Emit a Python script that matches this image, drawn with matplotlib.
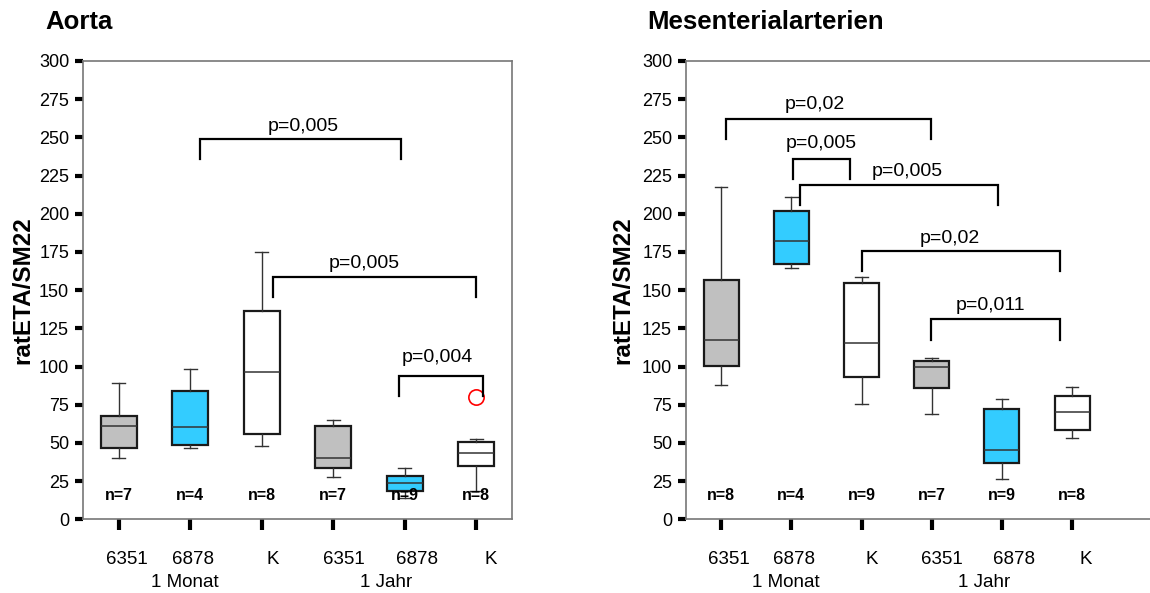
import matplotlib
matplotlib.use("Agg")
import matplotlib.pyplot as plt

plt.rcParams['font.family'] = ['Liberation Sans', 'DejaVu Sans']

# categories
groups = ['6351', '6878', 'K', '6351', '6878', 'K']
periods = ['1 Monat', '1 Jahr']
box_colors = ['#C0C0C0', '#33CCFF', 'white', '#C0C0C0', '#33CCFF', 'white']

# Aorta
aorta_whislo = [40.0, 46.5, 48.0, 27.7, 13.7, 18.5]
aorta_q1 = [46.5, 48.6, 55.8, 33.8, 18.5, 35.1]
aorta_med = [61.1, 60.2, 96.6, 40.1, 23.8, 43.6]
aorta_q3 = [67.4, 84.2, 136.1, 61.1, 28.5, 50.6]
aorta_whishi = [89.3, 98.6, 174.7, 65.2, 33.8, 52.8]
aorta_fliers = [[], [], [], [], [], [80.2]]
aorta_n = [7, 4, 8, 7, 9, 8]
# (x1, x2, top, bottom, label, text x, text y)
aorta_pvals = [
    (2.13, 4.95, 248.7, 235.6, 'p=0,005', 3.58, 257.3),
    (3.16, 5.99, 158.8, 145.7, 'p=0,005', 4.43, 167.5),
    (4.92, 6.10, 93.8, 80.7, 'p=0,004', 5.45, 105.9),
]

# Mesenterialarterien
mes_whislo = [87.9, 164.3, 75.5, 69.1, 26.4, 53.4]
mes_q1 = [100.3, 167.3, 93.1, 85.9, 36.8, 58.6]
mes_med = [117.1, 181.9, 115.2, 99.5, 45.2, 70.0]
mes_q3 = [156.6, 201.6, 154.6, 103.6, 72.2, 80.5]
mes_whishi = [217.3, 210.7, 158.8, 105.6, 78.5, 86.8]
mes_fliers = [[], [], [], [], [], []]
mes_n = [8, 4, 9, 7, 9, 8]
mes_pvals = [
    (1.07, 3.99, 262.0, 248.7, 'p=0,02', 2.34, 271.8),
    (2.02, 2.84, 235.8, 222.7, 'p=0,005', 2.42, 246.0),
    (2.13, 4.94, 218.8, 205.7, 'p=0,005', 3.65, 227.5),
    (3.01, 5.83, 175.8, 162.7, 'p=0,02', 4.26, 183.9),
    (3.99, 5.83, 130.9, 117.3, 'p=0,011', 4.84, 140.2),
]

yticks = list(range(0, 301, 25))
label_dx = [0.11, 0.04, 0.15, 0.15, 0.17, 0.2]
period_x = [1.92, 4.74]


def draw_panel(ax, whislo, q1, med, q3, whishi, fliers, nlist, pvals, xmax, right_spine):
    stats = []
    for i in range(len(groups)):
        stats.append(dict(whislo=whislo[i], q1=q1[i], med=med[i], q3=q3[i],
                          whishi=whishi[i], fliers=fliers[i]))
    pos = list(range(1, len(groups) + 1))
    bp = ax.bxp(stats, positions=pos, widths=0.5, patch_artist=True,
                showfliers=True, manage_ticks=False,
                boxprops=dict(edgecolor='#1a1a1a', linewidth=1.6),
                medianprops=dict(color='#333333', linewidth=1.1),
                whiskerprops=dict(color='#333333', linewidth=1.0),
                capprops=dict(color='#333333', linewidth=1.0),
                capwidths=0.18,
                flierprops=dict(marker='o', markerfacecolor='none',
                                markeredgecolor='red', markersize=11,
                                markeredgewidth=1.2))
    for patch, c in zip(bp['boxes'], box_colors):
        patch.set_facecolor(c)

    for x, n in zip(pos, nlist):
        ax.text(x, 15.5, f'n={n}', ha='center', va='center', fontsize=11.5,
                fontweight='bold')

    for x1, x2, top, bot, lab, tx, ty in pvals:
        ax.plot([x1, x1, x2, x2], [bot, top, top, bot], color='black', lw=1.6,
                solid_joinstyle='miter', clip_on=False)
        ax.text(tx, ty, lab, ha='center', va='center', fontsize=14)

    ax.set_xlim(0.5, xmax)
    ax.set_ylim(0, 300)
    ax.set_yticks(yticks)
    ax.set_yticklabels([str(t) for t in yticks], fontsize=13)
    ax.set_xticks(pos)
    ax.set_xticklabels([])
    ax.tick_params(axis='y', direction='out', length=6, width=3, color='black', pad=4)
    ax.tick_params(axis='x', direction='out', length=8, width=3, color='black')
    for sp in ['left', 'top', 'bottom', 'right']:
        ax.spines[sp].set_color('#777777')
        ax.spines[sp].set_linewidth(1.2)
    ax.spines['right'].set_visible(right_spine)

    for x, g, dx in zip(pos, groups, label_dx):
        ax.text(x + dx, -0.087, g, transform=ax.get_xaxis_transform(),
                ha='center', va='center', fontsize=13.5)
    for x, p in zip(period_x, periods):
        ax.text(x, -0.137, p, transform=ax.get_xaxis_transform(),
                ha='center', va='center', fontsize=13.5)


fig = plt.figure(figsize=(11.5, 5.93), dpi=100)
ax1 = fig.add_axes([83 / 1150, 1 - 519.3 / 593, 429 / 1150, 458.3 / 593])
ax2 = fig.add_axes([686 / 1150, 1 - 519.3 / 593, 500 / 1150, 458.3 / 593])

draw_panel(ax1, aorta_whislo, aorta_q1, aorta_med, aorta_q3, aorta_whishi,
           aorta_fliers, aorta_n, aorta_pvals, 6.5, True)
draw_panel(ax2, mes_whislo, mes_q1, mes_med, mes_q3, mes_whishi,
           mes_fliers, mes_n, mes_pvals, 0.5 + 500 / 70.2, False)

for xc in [22.5, 622.5]:
    fig.text(xc / 1150, 1 - 290 / 593, 'ratETA/SM22', rotation=90, ha='center',
             va='center', fontsize=17.5, fontweight='bold')

fig.text(45 / 1150, 1 - 22 / 593, 'Aorta', ha='left', va='center',
         fontsize=18.5, fontweight='bold')
fig.text(647 / 1150, 1 - 22 / 593, 'Mesenterialarterien', ha='left', va='center',
         fontsize=18.5, fontweight='bold')

fig.savefig('out.png', dpi=100)
